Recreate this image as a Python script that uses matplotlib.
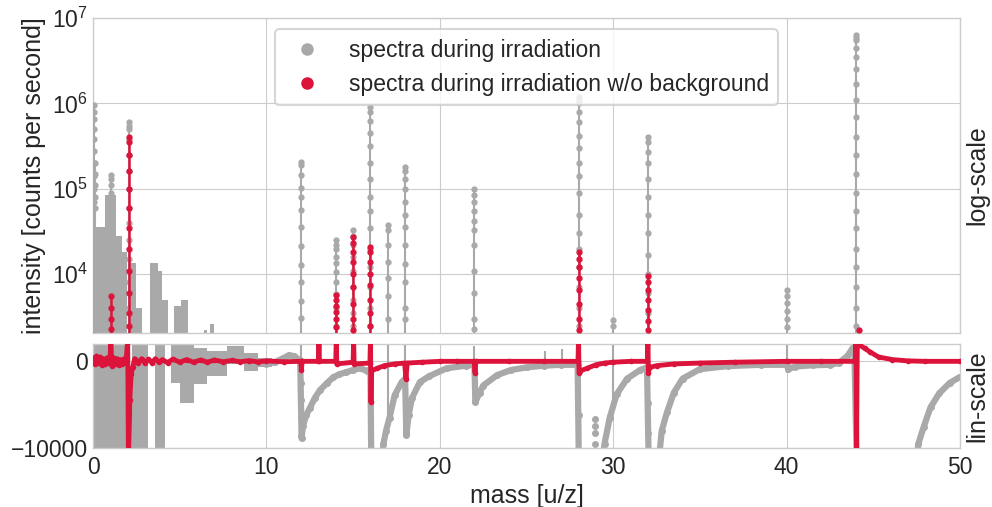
import numpy as np
import matplotlib
matplotlib.use("Agg")
import matplotlib.pyplot as plt
import seaborn as sns
from matplotlib.lines import Line2D

# ---------------- data ----------------
GRAY = "#a9a9a9"
RED = "#dc143c"

series_labels = ["spectra during irradiation", "spectra during irradiation w/o background"]
x_ticks = [0, 10, 20, 30, 40, 50]
lin_ticks = [-10000, 0]

log_floor = 1e3  # stems continue below the visible log range

# log panel: gray peak stems (mass, dot intensities)
gray_peak_mass = [0.04, 0.12, 1.03, 2.05, 12.0, 14.0, 15.0, 16.0, 17.0, 18.0, 22.0, 28.0, 30.0, 32.0, 40.0, 44.0]
gray_peak_dots = [
    [9.5e5, 8e5, 6.5e5, 5e5, 3.8e5, 2.8e5, 2e5, 1.4e5, 1e5, 7e4],
    [2e5, 1.5e5, 1.1e5, 8e4, 6e4],
    [1.45e5, 1.3e5, 1.1e5, 9e4],
    [6e5, 5.5e5, 5e5, 3.8e5, 2.5e5, 1.6e5, 1e5, 6e4, 4e4, 2.5e4, 1.5e4, 8e3, 4e3],
    [2.07e5, 1.9e5, 1.46e5, 1.03e5, 8e4, 5.7e4, 3.6e4, 2.15e4, 1.29e4, 8.2e3, 4.8e3, 3.1e3],
    [2.5e4, 2.2e4, 1.95e4, 1.6e4, 1.35e4, 1.05e4, 8e3, 5.8e3, 4e3, 2.5e3],
    [3.3e4, 2.8e4, 2.2e4, 1.6e4, 1.1e4, 7e3, 5e3, 3.5e3, 2.5e3],
    [9.1e5, 8e5, 6.3e5, 4.5e5, 3.2e5, 2e5, 1.3e5, 8e4, 5.5e4, 3.5e4, 2e4, 1.2e4, 7e3, 4e3, 2.5e3],
    [3.8e4, 3.3e4, 2.2e4, 1.4e4, 9e3, 5.5e3, 3e3],
    [1.8e5, 1.6e5, 1.3e5, 1e5, 7e4, 5e4, 3.6e4, 2.2e4, 1.3e4, 8e3, 4e3, 3e3],
    [1e5, 8.5e4, 7e4, 5.5e4, 4.2e4, 3.3e4, 2.2e4, 1.1e4, 6e3, 3e3, 2.3e3],
    [1.2e6, 1.1e6, 1e6, 8e5, 6e5, 4.2e5, 3e5, 2e5, 1.4e5, 9e4, 5e4, 3e4, 2e4, 1.2e4, 7e3, 4e3, 2.5e3],
    [2.9e3, 2.5e3],
    [4e5, 3.5e5, 2.7e5, 2e5, 1.3e5, 8e4, 5e4, 3e4, 1.7e4, 1e4, 6e3, 3.5e3],
    [6.6e3, 5.5e3, 4.6e3, 3.7e3, 3e3, 2.4e3],
    [6.3e6, 5.8e6, 5.5e6, 4.5e6, 3.5e6, 2.5e6, 1.7e6, 1.1e6, 7e5, 4e5, 2.5e5, 1.5e5,
     9e4, 5.5e4, 3.5e4, 2e4, 1.2e4, 7e3, 4e3, 2.5e3],
]

# log panel: red peak stems
red_peak_mass = [1.03, 2.05, 14.0, 15.0, 16.0, 28.0, 32.0, 44.2]
red_peak_dots = [
    [5.5e3, 4e3, 3e3, 2.3e3],
    [4e5, 3.5e5, 2.5e5, 1.6e5, 1e5, 6e4, 3.5e4, 2e4, 1.1e4, 6e3, 3.5e3, 2.5e3],
    [5.7e3, 5e3, 4.3e3, 3.6e3, 3e3, 2.4e3],
    [2.7e4, 2.3e4, 1.8e4, 1.4e4, 1e4, 7e3, 4.5e3, 3e3, 2.2e3],
    [2.1e4, 1.8e4, 1.4e4, 1e4, 7.5e3, 5e3, 3.5e3, 2.5e3],
    [1.8e4, 1.5e4, 1.2e4, 9e3, 6.5e3, 4.5e3, 3e3, 2.2e3],
    [9.5e3, 8e3, 6.5e3, 5e3, 3.8e3, 2.8e3, 2.2e3],
    [2.2e3],
]

# log panel: dense gray region at low masses (blocks)
top_block_left = [0.00, 0.08, 0.13, 0.20, 0.72, 1.35, 1.65, 2.12, 2.50, 3.30, 3.75, 4.00, 4.70, 5.05, 6.40, 6.75]
top_block_right = [0.08, 0.13, 0.20, 0.72, 1.35, 1.65, 1.98, 2.50, 2.80, 3.75, 4.00, 4.30, 5.05, 5.45, 6.60, 7.00]
top_block_high = [1.5e5, 8e4, 5e4, 3.6e4, 8.5e4, 2.8e4, 1.8e4, 1.35e4, 4e3, 1.35e4, 1.1e4, 5e3, 4.3e3, 5e3, 2.2e3, 2.6e3]

# lin panel: dense gray region at low masses (blocks)
lin_block_left = [0.00, 2.25, 3.60, 4.50, 5.00, 5.80, 6.60, 7.70, 8.70, 9.50]
lin_block_right = [2.15, 3.20, 4.15, 5.00, 5.80, 6.60, 7.70, 8.70, 9.50, 10.3]
lin_block_low = [-10500, -10500, -10500, -2500, -4800, -2600, -1700, -300, -1100, -700]
lin_block_high = [2500, 2500, 2500, 2500, 2500, 1500, 1200, 1800, 1000, 400]

# lin panel: gray trace (baseline and recovery curves)
gray_lin_mass = [10.0, 10.5, 11.0, 11.3, 11.6, 11.95, 12.03, 12.1, 12.3, 12.5, 12.8, 13.1, 13.5, 13.85,
                 14.2, 14.6, 15.0, 15.4, 15.8, 16.0, 16.05, 16.65, 16.75, 16.9, 17.1, 17.4, 17.8, 18.0,
                 18.07, 18.2, 18.4, 18.85, 19.4, 20.4, 21.5, 22.0, 22.05, 22.3, 22.5, 23.3, 24.1, 25.0,
                 26.0, 27.0, 27.95, 28.02, 29.35, 29.5, 29.8, 30.2, 30.8, 31.55, 31.95, 32.05, 32.6,
                 32.8, 33.1, 33.5, 34.0, 35.0, 36.6, 38.5, 40.0, 40.1, 40.5, 41.5, 42.5, 43.0, 43.5,
                 43.9, 44.05, 47.45, 47.6, 47.9, 48.3, 48.8, 49.4, 50.0]
gray_lin_val = [-300, -100, 400, 700, 600, 100, -8900, -7500, -6200, -5400, -4200, -3300, -2500, -1850,
                -1500, -1250, -1000, -800, -1100, -900, -12000, -12000, -9500, -8000, -6500, -3900, -2400, -2000,
                -8500, -6200, -4200, -2400, -1700, -800, -500, -400, -4700, -3600, -2800, -1600, -1000, -700,
                -500, -400, -400, -12000, -12000, -9500, -6500, -3800, -2000, -1000, -700, -12000, -12000,
                -8000, -5900, -3600, -2000, -900, -550, -400, -400, -900, -600, -450, -400, -200, 600,
                1800, -12000, -12000, -9500, -7600, -5300, -3700, -2500, -1800]

# lin panel: gray vertical spikes
gray_spike_mass = [12.0, 16.0, 17.0, 18.0, 22.0, 26.05, 27.05, 28.0, 30.0, 32.0, 40.0]
gray_spike_low = [-8900, -11000, -6500, -8500, -4700, -500, -400, -11000, -4700, -8300, -1400]
gray_spike_high = [2500, 2500, 2500, 2500, 1800, 1200, 1400, 2500, 2500, 2500, 2500]

# lin panel: scattered gray points
gray_dot_mass = [12.0, 12.0, 12.0, 28.0, 28.95, 28.95, 28.95, 28.95, 32.0, 32.0]
gray_dot_val = [-2500, -4500, -6500, -6200, -6700, -7500, -8300, -9500, -4800, -8300]

# lin panel: red trace
red_lin_mass = [0.0, 0.1, 0.2, 0.3, 0.4, 0.5, 0.6, 0.7, 0.8, 0.9, 0.98, 1.03, 1.08, 1.2, 1.3, 1.4, 1.5,
                1.6, 1.7, 1.8, 1.9, 2.0, 2.04, 2.08, 2.12, 2.2, 2.3, 2.4, 2.6, 2.8, 3.0, 3.2, 3.4, 3.6,
                3.8, 4.0, 4.3, 4.6, 5.0, 5.4, 5.8, 6.2, 6.6, 7.0, 7.5, 8.0, 8.5, 9.0, 9.5, 10.0, 11.0,
                11.98, 12.02, 12.06, 13.0, 13.03, 13.06, 14.0, 14.03, 14.06, 15.0, 15.03, 15.06, 15.97,
                16.0, 16.03, 16.06, 16.4, 16.8, 17.4, 17.97, 18.05, 18.12, 19.0, 20.0, 21.0, 21.98,
                22.03, 22.08, 24.0, 26.0, 27.97, 28.0, 28.03, 28.1, 28.5, 29.0, 29.5, 30.0, 31.0, 31.97,
                32.0, 32.03, 32.1, 32.5, 33.5, 35.0, 37.0, 40.0, 42.0, 43.97, 44.0, 44.03, 44.08, 44.2,
                44.5, 44.8, 45.3, 46.1, 47.0, 48.0, 50.0]
red_lin_val = [400, -300, 600, -200, 500, -400, 300, -300, 400, -200, 300, 2500, -500, 400, -300, 300, -400,
               200, -300, 300, -200, 2500, -10500, -10500, -4500, -1500, -600, 300, -200, 300, -200, 250, -150, 300,
               -100, 200, -150, 250, -100, 200, -100, 150, -100, 150, -50, 100, -50, 80, -60, 50, -50,
               0, -1000, 0, 0, 2500, 0, 0, 2500, -300, -100, 2500, -300, -200,
               2500, -4700, -1100, -800, -500, -300, -200, -2000, -200, -100, 0, 0, 0,
               -1300, 0, 0, 0, 0, 2500, -1300, -1100, -800, -400, -200, -100, 0, 0,
               2500, -1300, -700, -500, -300, -200, -100, 0, 0, 0, 2500, -10500, 2500, 1900,
               1500, 1100, 500, 200, 50, 0, 0]

# ---------------- style ----------------
sns.set_theme(style="whitegrid", context="talk")
plt.rcParams["font.family"] = ["Liberation Sans", "DejaVu Sans"]
plt.rcParams["xtick.major.size"] = 0
plt.rcParams["ytick.major.size"] = 0
plt.rcParams["xtick.major.pad"] = 5.5
plt.rcParams["ytick.major.pad"] = 3.5
plt.rcParams["axes.linewidth"] = 1.0
plt.rcParams["grid.linewidth"] = 0.8

fig = plt.figure(figsize=(9.92, 5.07), dpi=100)
ax_log = fig.add_axes([93 / 992, 1 - 333 / 507, 867 / 992, 315 / 507])
ax_lin = fig.add_axes([93 / 992, 1 - 448 / 507, 867 / 992, 104 / 507], sharex=ax_log)

# ---- log panel ----
ax_log.set_yscale("log")
ax_log.bar(top_block_left, np.array(top_block_high) - log_floor,
           width=np.array(top_block_right) - np.array(top_block_left),
           bottom=log_floor, align="edge", color=GRAY, linewidth=0, zorder=2)
for m, dots in zip(gray_peak_mass, gray_peak_dots):
    ys = [log_floor] + sorted(dots)
    ax_log.plot([m] * len(ys), ys, color=GRAY, lw=1.5, marker="o", ms=3.5, zorder=3)
for m, dots in zip(red_peak_mass, red_peak_dots):
    ys = [log_floor] + sorted(dots)
    ax_log.plot([m] * len(ys), ys, color=RED, lw=1.8, marker="o", ms=3.5, zorder=4)
ax_log.set_ylim(2050, 1e7)
ax_log.set_ylabel("intensity [counts per second]")
ax_log.tick_params(axis="x", labelbottom=False)
ax_log.text(1.006, 0.5, "log-scale", transform=ax_log.transAxes, rotation=90,
            va="center", ha="left", fontsize=18, color="0.15")

handles = [Line2D([], [], color=GRAY, marker="o", ls="none", ms=8),
           Line2D([], [], color=RED, marker="o", ls="none", ms=8)]
ax_log.legend(handles, series_labels, loc="upper center")

# ---- lin panel ----
ax_lin.bar(lin_block_left, np.array(lin_block_high) - np.array(lin_block_low),
           width=np.array(lin_block_right) - np.array(lin_block_left),
           bottom=lin_block_low, align="edge", color=GRAY, linewidth=0, zorder=2)
ax_lin.plot(gray_lin_mass, gray_lin_val, color=GRAY, lw=4.5, marker="o", ms=4, zorder=2)
ax_lin.vlines(gray_spike_mass, gray_spike_low, gray_spike_high, color=GRAY, lw=1.5, zorder=2)
ax_lin.plot(gray_dot_mass, gray_dot_val, ls="none", color=GRAY, marker="o", ms=4, zorder=2)
ax_lin.plot(red_lin_mass, red_lin_val, color=RED, lw=3.5, marker="o", ms=3, zorder=4)
ax_lin.set_ylim(-10000, 2000)
ax_lin.set_yticks(lin_ticks)
ax_lin.set_xlim(0, 50)
ax_lin.set_xticks(x_ticks)
ax_lin.set_xlabel("mass [u/z]")
ax_lin.text(1.006, 0.5, "lin-scale", transform=ax_lin.transAxes, rotation=90,
            va="center", ha="left", fontsize=18, color="0.15")

fig.savefig("out.png", dpi=100)
